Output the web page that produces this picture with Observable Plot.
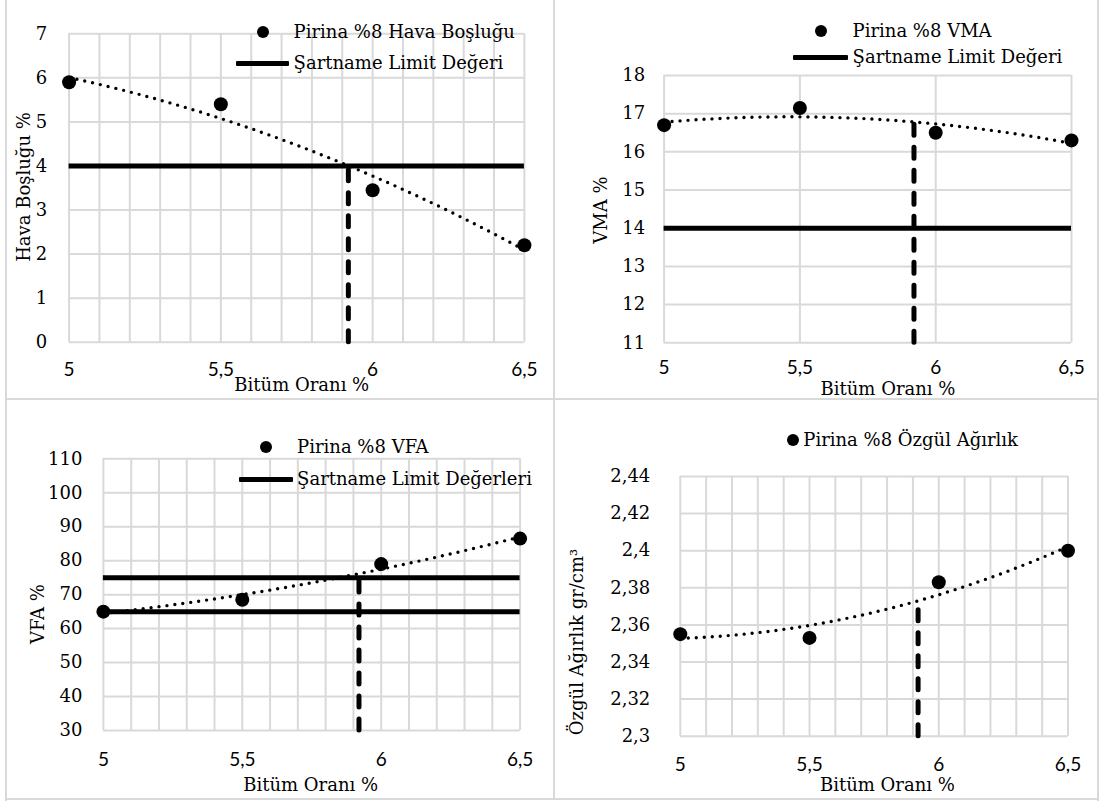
<!DOCTYPE html>
<html lang="tr"><head><meta charset="utf-8">
<script src="https://cdn.jsdelivr.net/npm/d3@7"></script>
<script src="https://cdn.jsdelivr.net/npm/@observablehq/plot@0.6"></script>
<style>
html,body{margin:0;padding:0;background:#fff;}
#wrap{position:relative;width:1103px;height:803px;overflow:hidden;background:#fff;color:#000;font-family:"DejaVu Serif",serif;}
.panel{position:absolute;}
.panel svg{display:block;overflow:visible;}
.txt{position:absolute;white-space:nowrap;font-size:18px;line-height:18px;transform:translateY(-50%);}
.ctr{transform:translate(-50%,-50%);}
.rot{transform:translate(-50%,-50%) rotate(-90deg);}
.ldot{position:absolute;border-radius:50%;background:#000;}
.lline{position:absolute;background:#000;height:5px;border-radius:1px;}
.border{position:absolute;background:#d9d9d9;}
</style></head><body><div id="wrap"></div>
<script>
// ---- data ----
const bitumen = [5, 5.5, 6, 6.5];
const airVoids = [5.9, 5.4, 3.45, 2.2];
const vma = [16.7, 17.15, 16.5, 16.3];
const vfa = [65, 68.5, 79, 86.5];
const specGravity = [2.355, 2.353, 2.383, 2.4];
const optimumBitumen = 5.92;
const airVoidsLimit = [4];
const vmaLimit = [14];
const vfaLimits = [65, 75];
const specGravityLimit = [];
const dashTops = [4, 16.8, 75, 2.373];

// ---- ticks ----
const xTicks = [5, 5.5, 6, 6.5];
const xGridFine = [5, 5.1, 5.2, 5.3, 5.4, 5.5, 5.6, 5.7, 5.8, 5.9, 6, 6.1, 6.2, 6.3, 6.4, 6.5];
const xGridCoarse = [5, 5.5, 6, 6.5];
const airTicks = [0, 1, 2, 3, 4, 5, 6, 7];
const vmaTicks = [11, 12, 13, 14, 15, 16, 17, 18];
const vfaTicks = [30, 40, 50, 60, 70, 80, 90, 100, 110];
const sgTicks = [2.3, 2.32, 2.34, 2.36, 2.38, 2.4, 2.42, 2.44];

// ---- texts ----
const xTitle = "Bitüm Oranı %";
const yTitles = ["Hava Boşluğu %", "VMA %", "VFA %", "Özgül Ağırlık gr/cm³"];
const seriesNames = ["Pirina %8 Hava Boşluğu", "Pirina %8 VMA", "Pirina %8 VFA", "Pirina %8 Özgül Ağırlık"];
const limitNames = ["Şartname Limit Değeri", "Şartname Limit Değeri", "Şartname Limit Değerleri", null];

// ---- layout (pixel positions in the 1103x803 page) ----
const layouts = [
  {left: 0, top: 0, w: 553, h: 399, mL: 68.6, mR: 29.1, mT: 33.3, mB: 57.3, xPad: 20, yPad: 22,
   xTitle: [301.8, 385], yTitle: [23.5, 187], dot: [262.5, 32], text1: [293.6, 32], line: [235.7, 289.3, 63], text2: [293.6, 63]},
  {left: 553, top: 0, w: 550, h: 399, mL: 110.6, mR: 32, mT: 75, mB: 56.7, xPad: 18, yPad: 19,
   xTitle: [888, 389], yTitle: [601, 210], dot: [820.5, 30.7], text1: [852.6, 30.7], line: [793.4, 848, 57], text2: [852.6, 57]},
  {left: 0, top: 399, w: 553, h: 404, mL: 102.9, mR: 33.4, mT: 59.3, mB: 73, xPad: 21.5, yPad: 21,
   xTitle: [310.7, 785], yTitle: [37.5, 614], dot: [266, 446.7], text1: [297.1, 446.7], line: [238.6, 292.9, 479], text2: [297.1, 479]},
  {left: 553, top: 399, w: 550, h: 404, mL: 126.8, mR: 35.5, mT: 77, mB: 67.3, xPad: 21, yPad: 30,
   xTitle: [887.4, 785], yTitle: [576.5, 641.5], dot: [792.7, 440], text1: [803.3, 440], line: null, text2: null}
];

const series = [airVoids, vma, vfa, specGravity];
const limits = [airVoidsLimit, vmaLimit, vfaLimits, specGravityLimit];
const yTickSets = [airTicks, vmaTicks, vfaTicks, sgTicks];
const xGrids = [xGridFine, xGridCoarse, xGridFine, xGridFine];

const fmt = d => String(d).replace(".", ",");

// Excel-style 2nd order polynomial trendline (least squares)
function fitQuad(xs, ys) {
  const S = [0, 0, 0, 0, 0], T = [0, 0, 0];
  xs.forEach((x, i) => {
    for (let k = 0; k < 5; k++) S[k] += x ** k;
    for (let k = 0; k < 3; k++) T[k] += ys[i] * x ** k;
  });
  const M = [[S[0], S[1], S[2], T[0]], [S[1], S[2], S[3], T[1]], [S[2], S[3], S[4], T[2]]];
  for (let i = 0; i < 3; i++) for (let j = i + 1; j < 3; j++) {
    const f = M[j][i] / M[i][i];
    for (let k = i; k < 4; k++) M[j][k] -= f * M[i][k];
  }
  const c = [0, 0, 0];
  for (let i = 2; i >= 0; i--) {
    let s = M[i][3];
    for (let k = i + 1; k < 3; k++) s -= M[i][k] * c[k];
    c[i] = s / M[i][i];
  }
  return x => c[0] + c[1] * x + c[2] * x * x;
}

const wrap = document.getElementById("wrap");
function add(cls, css, html) {
  const d = document.createElement("div");
  d.className = cls;
  Object.assign(d.style, css);
  if (html != null) d.textContent = html;
  wrap.appendChild(d);
  return d;
}

// panel borders
add("border", {left: "5px", top: "0px", width: "2px", height: "801px"});
add("border", {left: "1097px", top: "0px", width: "2px", height: "801px"});
add("border", {left: "5px", top: "798px", width: "1094px", height: "2px"});
add("border", {left: "553px", top: "0px", width: "2px", height: "800px"});
add("border", {left: "5px", top: "398px", width: "1094px", height: "2px"});

layouts.forEach((L, i) => {
  const ys = series[i];
  const yT = yTickSets[i];
  const data = bitumen.map((x, j) => ({x, y: ys[j]}));
  const f = fitQuad(bitumen, ys);
  const trend = d3.range(5, 6.5001, 0.01).map(x => ({x, y: f(x)}));
  const yDomain = [yT[0], yT[yT.length - 1]];
  const chart = Plot.plot({
    width: L.w, height: L.h,
    marginLeft: L.mL, marginRight: L.mR, marginTop: L.mT, marginBottom: L.mB,
    x: {domain: [5, 6.5]},
    y: {domain: yDomain},
    style: {background: "transparent", color: "#000", fontFamily: "DejaVu Serif", fontSize: "18px", overflow: "visible"},
    marks: [
      Plot.ruleX(xGrids[i], {stroke: "#d9d9d9", strokeWidth: 2}),
      Plot.ruleY(yT, {stroke: "#d9d9d9", strokeWidth: 2}),
      Plot.axisX(xTicks, {tickSize: 0, tickPadding: L.xPad, tickFormat: fmt, label: null, fontFamily: "Lato", fontSize: 19, fill: "#000"}),
      Plot.axisY(yT, {tickSize: 0, tickPadding: L.yPad, tickFormat: fmt, label: null, fontFamily: "DejaVu Serif", fontSize: 18, fill: "#000"}),
      Plot.ruleY(limits[i], {stroke: "#000", strokeWidth: 5}),
      Plot.line(trend, {x: "x", y: "y", stroke: "#000", strokeWidth: 3.4, strokeDasharray: "0 8", strokeLinecap: "round"}),
      Plot.ruleX([{x: optimumBitumen, y1: yDomain[0], y2: dashTops[i]}], {x: "x", y1: "y1", y2: "y2", stroke: "#000", strokeWidth: 5, strokeDasharray: "11 12", strokeLinecap: "round"}),
      Plot.dot(data, {x: "x", y: "y", r: 7, fill: "#000", stroke: null})
    ]
  });
  const holder = document.createElement("div");
  holder.className = "panel";
  holder.style.left = L.left + "px";
  holder.style.top = L.top + "px";
  holder.appendChild(chart);
  wrap.appendChild(holder);

  // axis titles
  add("txt ctr", {left: L.xTitle[0] + "px", top: L.xTitle[1] + "px"}, xTitle);
  add("txt rot", {left: L.yTitle[0] + "px", top: L.yTitle[1] + "px"}, yTitles[i]);

  // legend
  add("ldot", {left: (L.dot[0] - 6) + "px", top: (L.dot[1] - 6) + "px", width: "12px", height: "12px"});
  add("txt", {left: L.text1[0] + "px", top: L.text1[1] + "px"}, seriesNames[i]);
  if (L.line) {
    add("lline", {left: L.line[0] + "px", top: (L.line[2] - 2.5) + "px", width: (L.line[1] - L.line[0]) + "px"});
    add("txt", {left: L.text2[0] + "px", top: L.text2[1] + "px"}, limitNames[i]);
  }
});
</script></body></html>
